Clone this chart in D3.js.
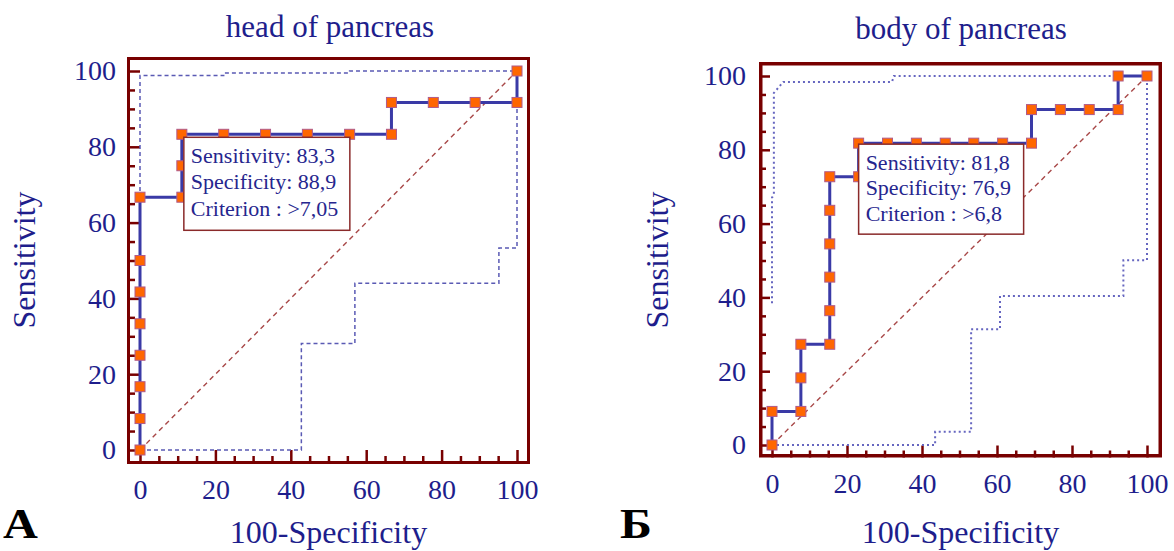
<!DOCTYPE html>
<html>
<head>
<meta charset="utf-8">
<script src="https://cdn.jsdelivr.net/npm/d3@7"></script>
<style>
  html, body { margin: 0; padding: 0; background: #ffffff; }
  svg { display: block; }
</style>
</head>
<body>
<svg id="chart" width="1174" height="551"></svg>
<script>
// ---------------- DATA ----------------
const panelTitles = ["head of pancreas", "body of pancreas"];
const panelLetters = ["А", "Б"];
const xAxisTitle = "100-Specificity";
const yAxisTitle = "Sensitivity";
const majorTicks = [0, 20, 40, 60, 80, 100];
const minorTicks = [5, 10, 15, 25, 30, 35, 45, 50, 55, 65, 70, 75, 85, 90, 95];

// Panel A: head of pancreas (ROC points: 100-Specificity, Sensitivity)
const headFPR = [0, 0, 0, 0, 0, 0, 0, 0, 11.1, 11.1, 11.1, 22.2, 33.3, 44.4, 55.6, 66.7, 66.7, 77.8, 88.9, 100, 100];
const headTPR = [0, 8.3, 16.7, 25, 33.3, 41.7, 50, 66.7, 66.7, 75, 83.3, 83.3, 83.3, 83.3, 83.3, 83.3, 91.7, 91.7, 91.7, 91.7, 100];
const headUpperX = [0, 0, 22.2, 22.2, 55.6, 55.6, 100];
const headUpperY = [0, 98.8, 98.8, 99.5, 99.5, 100, 100];
const headLowerX = [0, 42.8, 42.8, 57.0, 57.0, 95.2, 95.2, 100, 100];
const headLowerY = [0, 0, 28.1, 28.1, 44.0, 44.0, 53.3, 53.3, 100];
const headCriterion = [11.1, 83.3];
const headBoxLines = ["Sensitivity: 83,3", "Specificity: 88,9", "Criterion : >7,05"];

// Panel Б: body of pancreas
const bodyFPR = [0, 0, 7.7, 7.7, 7.7, 15.4, 15.4, 15.4, 15.4, 15.4, 15.4, 23.1, 23.1, 30.8, 38.5, 46.2, 53.8, 61.5, 69.2, 69.2, 76.9, 84.6, 92.3, 92.3, 100];
const bodyTPR = [0, 9.1, 9.1, 18.2, 27.3, 27.3, 36.4, 45.5, 54.5, 63.6, 72.7, 72.7, 81.8, 81.8, 81.8, 81.8, 81.8, 81.8, 81.8, 90.9, 90.9, 90.9, 90.9, 100, 100];
const bodyUpperX = [0, 0, 0.5, 0.5, 3, 32, 32.5, 100];
const bodyUpperY = [38.4, 67, 68, 95.4, 98.4, 98.4, 100, 100];
const bodyLowerX = [0, 43.5, 43.5, 53.1, 53.1, 60.8, 60.8, 93.7, 93.7, 100, 100];
const bodyLowerY = [0, 0, 3.6, 3.6, 31.4, 31.4, 40.4, 40.4, 50.1, 50.1, 100];
const bodyCriterion = [23.1, 81.8];
const bodyBoxLines = ["Sensitivity: 81,8", "Specificity: 76,9", "Criterion : >6,8"];

// ---------------- LAYOUT / STYLE ----------------
const NAVY = "#1e1e8c";
const FRAME = "#780000";
const FONT = "'Liberation Serif', 'Times New Roman', serif";

const layouts = [
  { frame: {l: 127, r: 530, t: 57, b: 464}, xr: [140, 517], yr: [450, 71], fw: 3,
    titleX: 330, titleY: 37, xtY: 543, ytX: 35, ytY: 260, letterX: 3,
    ylabPad: 11, xlabPad: 15, major: 13, minor: 8,
    bandColor: "#5a5ab4", bandDash: "4,3", bandWidth: 1.5,
    box: {dx: 2, dy: 3, w: 166, h: 93, tx: 7, lines: [26, 52, 79]},
    fpr: headFPR, tpr: headTPR, ux: headUpperX, uy: headUpperY, lx: headLowerX, ly: headLowerY,
    crit: headCriterion, boxLines: headBoxLines },
  { frame: {l: 759, r: 1162, t: 62, b: 457.5}, xr: [772, 1147], yr: [445, 76], fw: 3.5,
    titleX: 961, titleY: 39, xtY: 543, ytX: 668, ytY: 260, letterX: 620,
    ylabPad: 13, xlabPad: 16, major: 11, minor: 7,
    bandColor: "#6666c0", bandDash: "2,3", bandWidth: 2,
    box: {dx: 0, dy: 1, w: 165, h: 90, tx: 7, lines: [26, 51, 77]},
    fpr: bodyFPR, tpr: bodyTPR, ux: bodyUpperX, uy: bodyUpperY, lx: bodyLowerX, ly: bodyLowerY,
    crit: bodyCriterion, boxLines: bodyBoxLines }
];

const svg = d3.select("#chart");

layouts.forEach((L, i) => {
  const x = d3.scaleLinear().domain([0, 100]).range(L.xr);
  const y = d3.scaleLinear().domain([0, 100]).range(L.yr);
  const g = svg.append("g");
  const f = L.frame;

  // frame
  g.append("rect")
    .attr("x", f.l + L.fw / 2).attr("y", f.t + L.fw / 2)
    .attr("width", f.r - f.l - L.fw).attr("height", f.b - f.t - L.fw)
    .attr("fill", "#fff").attr("stroke", FRAME).attr("stroke-width", L.fw);

  // axes: major ticks + labels, minor ticks
  const yAxis = g.append("g").attr("transform", `translate(${f.l},0)`)
    .call(d3.axisLeft(y).tickValues(majorTicks).tickSize(-L.major).tickPadding(L.ylabPad).tickFormat(d3.format("d")));
  const yMinor = g.append("g").attr("transform", `translate(${f.l},0)`)
    .call(d3.axisLeft(y).tickValues(minorTicks).tickSize(-L.minor).tickFormat(""));
  const xAxis = g.append("g").attr("transform", `translate(0,${f.b})`)
    .call(d3.axisBottom(x).tickValues(majorTicks).tickSize(-L.major - 1).tickPadding(L.xlabPad).tickFormat(d3.format("d")));
  const xMinor = g.append("g").attr("transform", `translate(0,${f.b})`)
    .call(d3.axisBottom(x).tickValues(minorTicks).tickSize(-L.minor).tickFormat(""));

  [yAxis, yMinor, xAxis, xMinor].forEach(a => {
    a.select(".domain").remove();
    a.selectAll("line").attr("stroke", FRAME).attr("stroke-width", 2.5);
    a.selectAll("text").attr("fill", NAVY).style("font-family", FONT).style("font-size", "28px");
  });

  // confidence bands
  const line = d3.line().x(d => x(d[0])).y(d => y(d[1]));
  const upper = L.ux.map((v, k) => [v, L.uy[k]]);
  const lower = L.lx.map((v, k) => [v, L.ly[k]]);
  [upper, lower].forEach(pts => {
    g.append("path").attr("d", line(pts)).attr("fill", "none")
      .attr("stroke", L.bandColor).attr("stroke-width", L.bandWidth)
      .attr("stroke-dasharray", L.bandDash);
  });

  // diagonal reference
  g.append("path").attr("d", line([[0, 0], [100, 100]])).attr("fill", "none")
    .attr("stroke", "#a84848").attr("stroke-width", 1.4).attr("stroke-dasharray", "5,4");

  // ROC curve
  const pts = L.fpr.map((v, k) => [v, L.tpr[k]]);
  g.append("path").attr("d", line(pts)).attr("fill", "none")
    .attr("stroke", "#3a3aa6").attr("stroke-width", 3);
  g.selectAll("rect.mk").data(pts).enter().append("rect").attr("class", "mk")
    .attr("x", d => x(d[0]) - 5).attr("y", d => y(d[1]) - 5)
    .attr("width", 10).attr("height", 10)
    .attr("fill", "#ff6600").attr("stroke", "#b05a8a").attr("stroke-width", 1);

  // criterion box
  const bx = x(L.crit[0]) + L.box.dx, by = y(L.crit[1]) + L.box.dy;
  g.append("rect").attr("x", bx).attr("y", by).attr("width", L.box.w).attr("height", L.box.h)
    .attr("fill", "#fff").attr("stroke", "#8a2a2a").attr("stroke-width", 1.5);
  L.boxLines.forEach((t, k) => {
    g.append("text").attr("x", bx + L.box.tx).attr("y", by + L.box.lines[k])
      .attr("fill", "#26268e").style("font-family", FONT).style("font-size", "22px").text(t);
  });

  // titles
  g.append("text").attr("x", L.titleX).attr("y", L.titleY).attr("text-anchor", "middle")
    .attr("fill", NAVY).style("font-family", FONT).style("font-size", "31px").text(panelTitles[i]);
  g.append("text").attr("x", (f.l + f.r) / 2).attr("y", L.xtY).attr("text-anchor", "middle")
    .attr("fill", NAVY).style("font-family", FONT).style("font-size", "32px").text(xAxisTitle);
  g.append("text").attr("transform", `translate(${L.ytX},${L.ytY}) rotate(-90)`).attr("text-anchor", "middle")
    .attr("fill", NAVY).style("font-family", FONT).style("font-size", "32px").text(yAxisTitle);
  g.append("text").attr("transform", `translate(${L.letterX},538) scale(1.15,1)`)
    .attr("fill", "#000").style("font-family", FONT).style("font-size", "42px").style("font-weight", "bold")
    .text(panelLetters[i]);
});
</script>
</body>
</html>
